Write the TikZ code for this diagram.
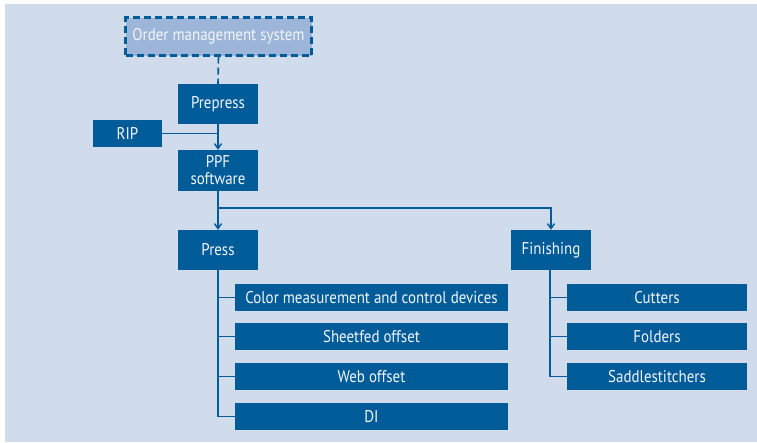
\documentclass[tikz,border=0pt]{standalone}
\usepackage{fontspec}
\setmainfont[FakeStretch=0.88]{PT Sans}
\usetikzlibrary{arrows.meta}
\definecolor{bgblue}{HTML}{D0DBEC}
\definecolor{dkblue}{HTML}{005C99}
\definecolor{omsfill}{HTML}{9DB5D8}
\definecolor{txt}{HTML}{F2F5FA}
\tikzset{
  box/.style={fill=dkblue, text=txt, inner sep=0pt, align=center, font=\fontsize{17}{17}\selectfont},
  conn/.style={draw=dkblue, line width=1.6pt},
  arr/.style={conn, -{Straight Barb[length=5pt,width=7pt,line width=1.4pt]}},
}
\newcommand{\bx}[6]{% name, x1, y1, x2, y2, text
  \node[box, minimum width={(#4-#2)*1pt}, minimum height={(#5-#3)*1pt}] (#1) at ({(#2+#4)/2},{(#3+#5)/2}) {#6};}
\begin{document}
\begin{tikzpicture}[x=1pt,y=-1pt]
\useasboundingbox (0,0) rectangle (757,442);
\fill[white] (0,0) rectangle (757,442);
\fill[bgblue] (5,4) rectangle (757,442);
% OMS
\node[box, fill=omsfill, draw=dkblue, dash pattern=on 7pt off 4pt, line width=2.2pt,
  minimum width=186pt, minimum height=38pt] (oms) at (218.5,36.5) {Order management system};
\bx{prepress}{178}{84}{258}{124}{Prepress}
\bx{rip}{93}{120}{162}{147}{RIP}
\bx{ppf}{178}{150}{258}{191}{PPF\\software}
\bx{press}{178}{230}{258}{270}{Press}
\bx{finishing}{511}{230}{591}{270}{Finishing}
\bx{color}{235}{284}{508}{311}{Color measurement and control devices}
\bx{sheetfed}{235}{323}{508}{350}{Sheetfed offset}
\bx{web}{235}{363}{508}{390}{Web offset}
\bx{di}{235}{403}{508}{430}{DI}
\bx{cutters}{567}{284}{747}{311}{Cutters}
\bx{folders}{567}{323}{747}{350}{Folders}
\bx{saddle}{567}{363}{747}{390}{Saddlestitchers}
% connectors
\draw[conn, dash pattern=on 7pt off 4pt] (oms.south) -- (prepress.north);
\draw[arr] (prepress.south) -- (ppf.north);
\draw[conn] (rip.east) -- (rip.east -| prepress.south);
\coordinate (split) at (218,208);
\draw[conn] (ppf.south) -- (split);
\draw[arr] (split) -- (press.north);
\draw[arr] (split) -| (finishing.north);
\draw[conn] (press.south) |- (di.west);
\draw[conn] (press.south |- color.west) -- (color.west);
\draw[conn] (press.south |- sheetfed.west) -- (sheetfed.west);
\draw[conn] (press.south |- web.west) -- (web.west);
\draw[conn] ([xshift=-1pt]finishing.south) |- (saddle.west);
\draw[conn] ([xshift=-1pt]finishing.south |- cutters.west) -- (cutters.west);
\draw[conn] ([xshift=-1pt]finishing.south |- folders.west) -- (folders.west);
\end{tikzpicture}
\end{document}
